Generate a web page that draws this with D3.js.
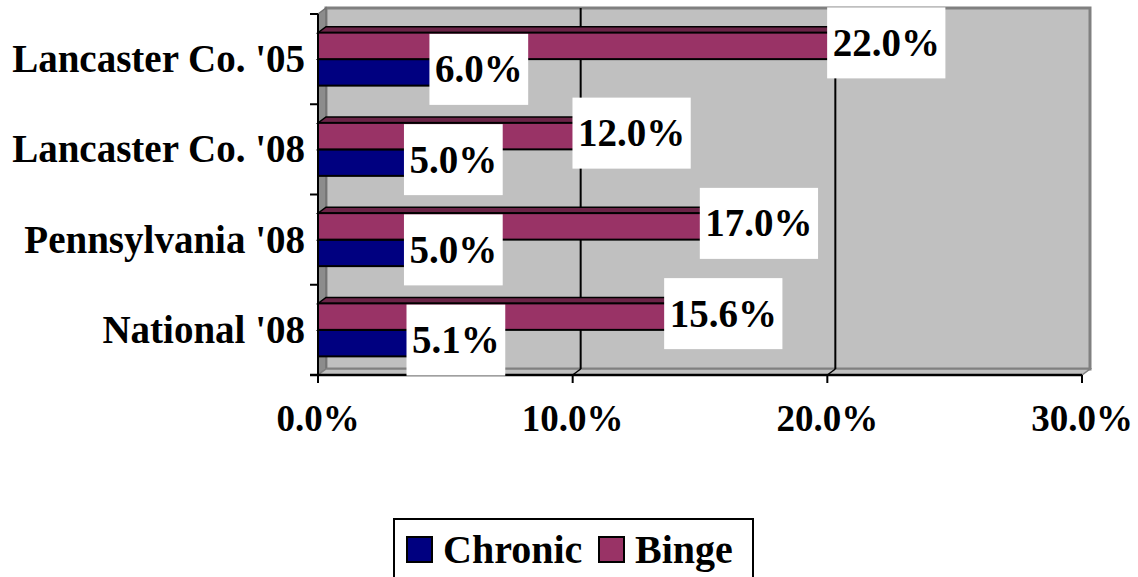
<!DOCTYPE html>
<html>
<head>
<meta charset="utf-8">
<script src="https://cdn.jsdelivr.net/npm/d3@7"></script>
<style>
  html, body { margin: 0; padding: 0; background: #fff; }
  svg { display: block; }
  text { font-family: "Liberation Serif", "Times New Roman", serif; font-weight: bold; fill: #000; }
</style>
</head>
<body>
<svg id="chart" width="1138" height="577"></svg>
<script>
// Survey rates by area and year (percent)
const categories = ["Lancaster Co. '05", "Lancaster Co. '08", "Pennsylvania '08", "National '08"];
const chronic = [6.0, 5.0, 5.0, 5.1];
const binge = [22.0, 12.0, 17.0, 15.6];
const seriesNames = ["Chronic", "Binge"];
const xTicks = [0, 10, 20, 30];

const colors = { Chronic: "#000080", Binge: "#993366" };
const topShade = { Chronic: "#00004d", Binge: "#6b2447" };

const svg = d3.select("#chart");

// front plane of the 3D plot box and its depth offset
const front = { left: 318, right: 1082, top: 14, bottom: 375 };
const dx = 8, dy = -6;

const x = d3.scaleLinear().domain([0, 30]).range([front.left, front.right]);
const y = d3.scaleBand().domain(categories).range([front.top, front.bottom]).paddingInner(0).paddingOuter(0);
const inner = d3.scaleBand().domain(["Binge", "Chronic"]).range([0, y.bandwidth()]).paddingInner(0).paddingOuter(0.703);

const pts = p => p.map(d => d.join(",")).join(" ");

// back wall
svg.append("rect")
  .attr("x", front.left + dx).attr("y", front.top + dy)
  .attr("width", front.right - front.left).attr("height", front.bottom - front.top)
  .attr("fill", "#c0c0c0").attr("stroke", "#808080").attr("stroke-width", 3);

// side wall
svg.append("polygon")
  .attr("points", pts([[front.left, front.top], [front.left + dx, front.top + dy],
                       [front.left + dx, front.bottom + dy], [front.left, front.bottom]]))
  .attr("fill", "#8c8c8c").attr("stroke", "#707070").attr("stroke-width", 1.5);

// floor
svg.append("polygon")
  .attr("points", pts([[front.left, front.bottom], [front.right, front.bottom],
                       [front.right + dx, front.bottom + dy], [front.left + dx, front.bottom + dy]]))
  .attr("fill", "#c0c0c0").attr("stroke", "#808080").attr("stroke-width", 1.5);

// gridlines on the back wall and floor
const grid = svg.append("g");
xTicks.filter(t => t > 0 && t < 30).forEach(t => {
  grid.append("line")
    .attr("x1", x(t) + dx).attr("x2", x(t) + dx)
    .attr("y1", front.top + dy).attr("y2", front.bottom + dy)
    .attr("stroke", "#000").attr("stroke-width", 2);
  grid.append("line")
    .attr("x1", x(t)).attr("y1", front.bottom)
    .attr("x2", x(t) + dx).attr("y2", front.bottom + dy)
    .attr("stroke", "#000").attr("stroke-width", 1.5);
});

// bars as 3D boxes
const rows = categories.map((c, i) => ({ cat: c, Chronic: chronic[i], Binge: binge[i] }));
const bars = [];
rows.forEach(r => seriesNames.forEach(s => {
  bars.push({ cat: r.cat, series: s, value: r[s] });
}));

const barG = svg.append("g");
// draw binge (upper) last so its front covers the chronic top face
["Chronic", "Binge"].forEach(s => {
  bars.filter(b => b.series === s).forEach(b => {
    const y0 = y(b.cat) + inner(s);
    const y1 = y0 + inner.bandwidth();
    const x0 = x(0), x1 = x(b.value);
    const g = barG.append("g");
    g.append("polygon")
      .attr("points", pts([[x0, y0], [x1, y0], [x1 + dx, y0 + dy], [x0 + dx, y0 + dy]]))
      .attr("fill", topShade[s]).attr("stroke", "#000").attr("stroke-width", 1.5);
    g.append("polygon")
      .attr("points", pts([[x1, y0], [x1 + dx, y0 + dy], [x1 + dx, y1 + dy], [x1, y1]]))
      .attr("fill", topShade[s]).attr("stroke", "#000").attr("stroke-width", 1.5);
    g.append("rect")
      .attr("x", x0).attr("y", y0).attr("width", x1 - x0).attr("height", y1 - y0)
      .attr("fill", colors[s]).attr("stroke", "#000").attr("stroke-width", 2);
  });
});

// front axes
svg.append("line").attr("x1", front.left).attr("x2", front.left)
  .attr("y1", front.top).attr("y2", front.bottom + 8)
  .attr("stroke", "#000").attr("stroke-width", 2);
svg.append("line").attr("x1", front.left - 8).attr("x2", front.right)
  .attr("y1", front.bottom).attr("y2", front.bottom)
  .attr("stroke", "#000").attr("stroke-width", 2.5);

// category ticks
const catEdges = categories.map(c => y(c)).concat([front.bottom]);
catEdges.forEach(v => {
  svg.append("line").attr("x1", front.left - 8).attr("x2", front.left)
    .attr("y1", v).attr("y2", v).attr("stroke", "#000").attr("stroke-width", 2);
});
xTicks.forEach(t => {
  svg.append("line").attr("x1", x(t)).attr("x2", x(t))
    .attr("y1", front.bottom).attr("y2", front.bottom + 8)
    .attr("stroke", "#000").attr("stroke-width", 2);
});

// tick labels
const fmt = d3.format(".1%");
svg.append("g").selectAll("text").data(xTicks).join("text")
  .attr("x", d => x(d)).attr("y", 431)
  .attr("text-anchor", "middle").attr("font-size", 37)
  .text(d => fmt(d / 100));

// category labels
svg.append("g").selectAll("text").data(categories).join("text")
  .attr("x", 305).attr("y", d => y(d) + y.bandwidth() / 2 + 13)
  .attr("text-anchor", "end").attr("font-size", 39)
  .text(d => d);

// value labels, centred on each bar's end
const labG = svg.append("g");
bars.forEach(b => {
  const cx = x(b.value) + dx;
  const cy = y(b.cat) + inner(b.series) + inner.bandwidth() / 2 - 3;
  const g = labG.append("g");
  const box = g.append("rect").attr("fill", "#fff");
  const t = g.append("text").attr("x", cx).attr("y", cy + 13)
    .attr("text-anchor", "middle").attr("font-size", 39)
    .text(fmt(b.value / 100));
  const w = t.node().getComputedTextLength() + 11;
  box.attr("x", cx - w / 2).attr("y", cy - 35.5).attr("width", w).attr("height", 71);
});

// legend
const leg = svg.append("g");
leg.append("rect").attr("x", 394).attr("y", 519).attr("width", 359).attr("height", 66)
  .attr("fill", "#fff").attr("stroke", "#000").attr("stroke-width", 2);
const legItems = [
  { name: "Chronic", sx: 407, tx: 443 },
  { name: "Binge", sx: 599, tx: 635 }
];
legItems.forEach(it => {
  leg.append("rect").attr("x", it.sx).attr("y", 537).attr("width", 25).attr("height", 25)
    .attr("fill", colors[it.name]).attr("stroke", "#000").attr("stroke-width", 2);
  leg.append("text").attr("x", it.tx).attr("y", 563).attr("font-size", 40).text(it.name);
});
</script>
</body>
</html>
